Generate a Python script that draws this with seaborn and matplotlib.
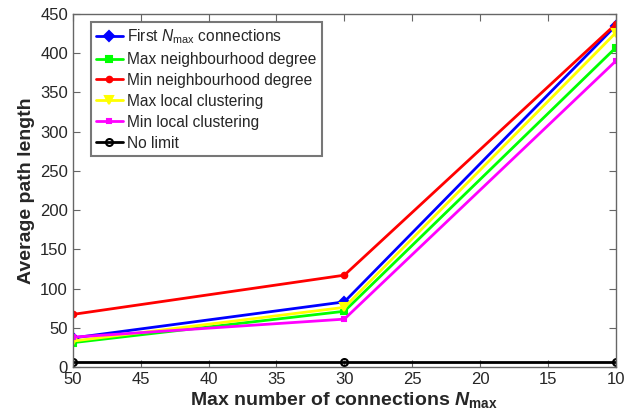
import matplotlib
matplotlib.use("Agg")
import matplotlib.pyplot as plt
import seaborn as sns
import pandas as pd

x_vals = [50, 30, 10]
first_nmax = [37, 83, 435]
max_neigh = [31, 71, 407]
min_neigh = [67, 117, 437]
max_clust = [33, 76, 426]
min_clust = [38, 61, 390]
no_limit = [7, 7, 7]

labels = [r"First $N_{\mathrm{max}}$ connections", "Max neighbourhood degree",
          "Min neighbourhood degree", "Max local clustering",
          "Min local clustering", "No limit"]
series = [first_nmax, max_neigh, min_neigh, max_clust, min_clust, no_limit]
colors = ["#0000ff", "#00ff00", "#ff0000", "#ffff00", "#ff00ff", "#000000"]
markers = ["D", "s", "o", "v", "s", "o"]
msizes = [5, 5, 4, 6, 3, 5]

sns.set_style("ticks")
plt.rcParams['font.family'] = ['Liberation Sans', 'DejaVu Sans']
plt.rcParams['mathtext.fontset'] = 'custom'
plt.rcParams['mathtext.rm'] = 'Liberation Sans'
plt.rcParams['mathtext.it'] = 'Liberation Sans:italic'
plt.rcParams['mathtext.bf'] = 'Liberation Sans:bold'
try:
    plt.rcParams['mathtext.bfit'] = 'Liberation Sans:bold:italic'
    xlab = r"Max number of connections $\mathbfit{N}_{\mathbf{max}}$"
except KeyError:
    xlab = r"Max number of connections $\mathbf{N_{max}}$"

fig = plt.figure(figsize=(6.33, 4.18), dpi=100)
ax = fig.add_axes([0.115, 0.122, 0.858, 0.845])

for lab, ys, c, m, ms in zip(labels, series, colors, markers, msizes):
    df = pd.DataFrame({"x": x_vals, "y": ys})
    mfc = "none" if lab == "No limit" else c
    sns.lineplot(data=df, x="x", y="y", ax=ax, color=c, marker=m, markersize=ms,
                 markerfacecolor=mfc, markeredgecolor=c, markeredgewidth=1.5,
                 linewidth=2, label=lab)

ax.set_xlim(50, 10)
ax.set_ylim(0, 450)
ax.set_xticks([50, 45, 40, 35, 30, 25, 20, 15, 10])
ax.set_yticks(range(0, 451, 50))
ax.tick_params(direction="in", top=True, right=True, labelsize=12, length=5, color="#666666")
for s in ax.spines.values():
    s.set_color("#666666")
    s.set_linewidth(1)
ax.set_xlabel(xlab, fontsize=14, fontweight="bold", labelpad=2)
ax.set_ylabel("Average path length", fontsize=14, fontweight="bold")
leg = ax.legend(loc="upper left", bbox_to_anchor=(0.033, 0.977), borderaxespad=0,
                fontsize=11.2, frameon=True, fancybox=False,
                edgecolor="#555555", handlelength=1.7,
                labelspacing=0.38, borderpad=0.35, handletextpad=0.3)
leg.get_frame().set_linewidth(1.5)

fig.savefig("out.png", dpi=100)
